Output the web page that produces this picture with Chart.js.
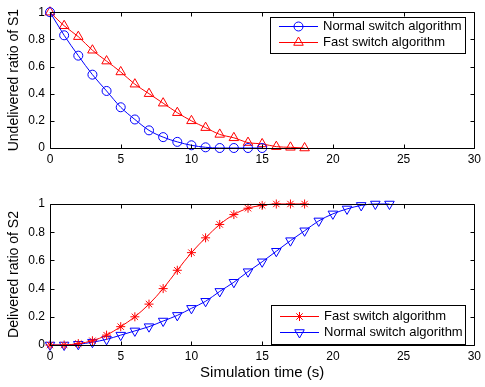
<!DOCTYPE html>
<html><head><meta charset="utf-8">
<script src="https://cdn.jsdelivr.net/npm/chart.js@4"></script>
<style>
html,body{margin:0;padding:0;background:#fff;width:485px;height:387px;overflow:hidden}
canvas{position:absolute;left:0}
#c1{top:0}
#c2{top:190px}
</style></head>
<body>
<canvas id="c1" width="485" height="190"></canvas>
<canvas id="c2" width="485" height="197"></canvas>
<script>
// ---- data ----
const xTickValues = [0, 5, 10, 15, 20, 25, 30];
const yTickValues = [0, 0.2, 0.4, 0.6, 0.8, 1];

const s1NormalTime = [0,1,2,3,4,5,6,7,8,9,10,11,12,13,14,15];
const s1Normal     = [1,0.83,0.68,0.54,0.42,0.30,0.21,0.13,0.08,0.045,0.02,0.005,0,0,0,0];

const s1FastTime = [0,1,2,3,4,5,6,7,8,9,10,11,12,13,14,15,16,17,18];
const s1Fast     = [1,0.90,0.82,0.72,0.64,0.56,0.47,0.40,0.33,0.26,0.20,0.15,0.10,0.075,0.04,0.03,0.01,0.005,0];

const s2FastTime = [0,1,2,3,4,5,6,7,8,9,10,11,12,13,14,15,16,17,18];
const s2Fast     = [0,0,0.01,0.03,0.07,0.13,0.20,0.29,0.40,0.53,0.655,0.76,0.855,0.925,0.97,0.99,1,1,1];

const s2NormalTime = [0,1,2,3,4,5,6,7,8,9,10,11,12,13,14,15,16,17,18,19,20,21,22,23,24];
const s2Normal     = [0,0,0.005,0.02,0.04,0.07,0.10,0.13,0.17,0.21,0.26,0.31,0.38,0.445,0.52,0.59,0.665,0.74,0.81,0.88,0.93,0.965,0.99,1,1];

const seriesNames = ['Normal switch algorithm', 'Fast switch algorithm'];
const yTitles = ['Undelivered ratio of S1', 'Delivered ratio of S2'];
const xTitle = 'Simulation time (s)';

// ---- helpers ----
const FONT = '"Liberation Sans", Arial, Helvetica, sans-serif';
const BLUE = '#0000ff', RED = '#ff0000';

function pts(xs, ys){ return xs.map((x,i)=>({x:x, y:ys[i]})); }

function ds(label, xs, ys, color, style, radius, rotation){
  return {
    label, data: pts(xs, ys),
    borderColor: color, backgroundColor: 'rgba(0,0,0,0)',
    borderWidth: 1, pointStyle: style, pointRadius: radius,
    pointRotation: rotation || 0, pointBorderWidth: 1,
    pointBackgroundColor: 'rgba(0,0,0,0)', pointBorderColor: color,
    cubicInterpolationMode: 'monotone', clip: false
  };
}

const framePlugin = {
  id: 'frame',
  afterDatasetsDraw(chart){
    const ctx = chart.ctx, a = chart.chartArea;
    const xs = chart.scales.x, ys = chart.scales.y;
    ctx.save();
    ctx.strokeStyle = '#000'; ctx.lineWidth = 1;
    const L = Math.round(a.left)+0.5, R = Math.round(a.right)+0.5;
    const T = Math.round(a.top)+0.5, B = Math.round(a.bottom)+0.5;
    ctx.beginPath();
    ctx.rect(L, T, R-L, B-T);
    const tl = 4;
    xTickValues.forEach(v=>{
      const px = Math.round(xs.getPixelForValue(v))+0.5;
      ctx.moveTo(px, B); ctx.lineTo(px, B-tl);
      ctx.moveTo(px, T); ctx.lineTo(px, T+tl);
    });
    yTickValues.forEach(v=>{
      const py = Math.round(ys.getPixelForValue(v))+0.5;
      ctx.moveTo(L, py); ctx.lineTo(L+tl, py);
      ctx.moveTo(R, py); ctx.lineTo(R-tl, py);
    });
    ctx.stroke();
    ctx.restore();
  }
};

const boxLegendPlugin = {
  id: 'boxLegend',
  afterDraw(chart, args, opts){
    const ctx = chart.ctx, a = chart.chartArea;
    const w = opts.width, h = opts.height;
    const right = Math.round(a.right) - opts.right;
    const left = right - w;
    const top = opts.top != null ? Math.round(a.top) + opts.top : Math.round(a.bottom) - opts.bottom - h;
    ctx.save();
    ctx.fillStyle = '#fff';
    ctx.fillRect(left+0.5, top+0.5, w, h);
    ctx.strokeStyle = '#000'; ctx.lineWidth = 1;
    ctx.strokeRect(left+0.5, top+0.5, w, h);
    ctx.font = '13px ' + FONT;
    ctx.textBaseline = 'middle';
    chart.data.datasets.forEach((d, i)=>{
      const y = top + opts.rowOffsets[i] + 0.5;
      const x0 = left + 9, x1 = left + 48;
      ctx.strokeStyle = d.borderColor; ctx.lineWidth = 1;
      ctx.beginPath(); ctx.moveTo(x0, y); ctx.lineTo(x1, y); ctx.stroke();
      ctx.fillStyle = 'rgba(0,0,0,0)';
      Chart.helpers.drawPoint(ctx, {pointStyle: d.pointStyle, radius: d.pointRadius, rotation: d.pointRotation, borderWidth: 1}, (x0+x1)/2, y);
      ctx.fillStyle = '#000';
      ctx.fillText(d.label, left + 53, y);
    });
    ctx.restore();
  }
};

function makeChart(id, datasets, yTitle, withXTitle, padTop, canvasH, legendOpts){
  return new Chart(document.getElementById(id), {
    type: 'line',
    data: { datasets },
    plugins: [framePlugin, boxLegendPlugin],
    options: {
      responsive: false, animation: false, events: [],
      layout: { autoPadding: false, padding: { top: padTop, right: 7, left: 0, bottom: 0 } },
      plugins: { legend: { display: false }, tooltip: { enabled: false }, boxLegend: legendOpts },
      scales: {
        x: {
          type: 'linear', min: 0, max: 30,
          afterBuildTicks(s){ s.ticks = xTickValues.map(v=>({value:v})); },
          ticks: { color: '#000', font: { family: FONT, size: 12 }, padding: 4, maxRotation: 0 },
          grid: { display: false, drawTicks: false }, border: { display: false },
          title: { display: withXTitle, text: xTitle, color: '#000', font: { family: FONT, size: 15 }, padding: { top: 0, bottom: 5 } },
          afterFit(s){ s.height = canvasH - padTop - 141; }
        },
        y: {
          type: 'linear', min: 0, max: 1,
          afterBuildTicks(s){ s.ticks = yTickValues.map(v=>({value:v})); },
          ticks: { color: '#000', font: { family: FONT, size: 12 }, padding: 5,
                   callback: v => String(Math.round(v*10)/10) },
          grid: { display: false, drawTicks: false }, border: { display: false },
          title: { display: true, text: yTitle, color: '#000', font: { family: FONT, size: 14 }, padding: { top: 6, bottom: 0 } },
          afterFit(s){ s.width = 50; }
        }
      }
    }
  });
}

makeChart('c1', [
  ds(seriesNames[0], s1NormalTime, s1Normal, BLUE, 'circle', 4.5),
  ds(seriesNames[1], s1FastTime, s1Fast, RED, 'triangle', 5.5)
], yTitles[0], false, 7, 190, { width: 195, height: 36, right: 9, top: 5, rowOffsets: [9, 25] });

makeChart('c2', [
  ds(seriesNames[1], s2FastTime, s2Fast, RED, 'star', 4.5),
  ds(seriesNames[0], s2NormalTime, s2Normal, BLUE, 'triangle', 5.5, 180)
], yTitles[1], true, 14, 197, { width: 194, height: 39, right: 9, bottom: 1, rowOffsets: [11, 27] });
</script>
</body></html>
